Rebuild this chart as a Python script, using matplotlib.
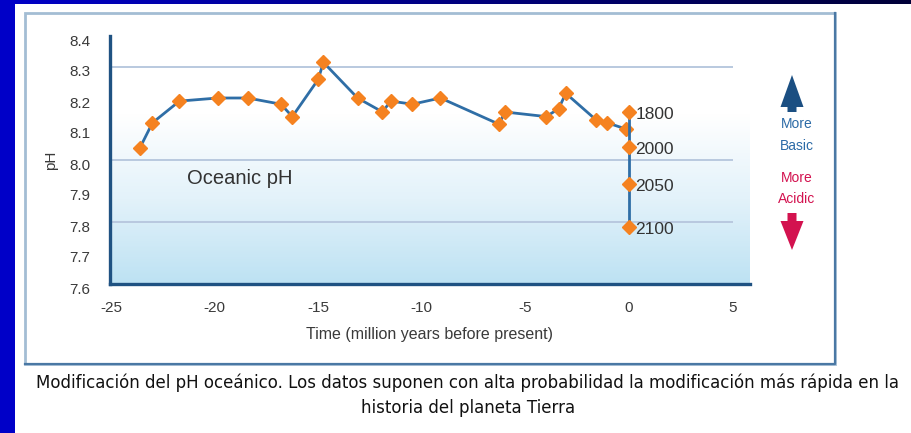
import matplotlib
matplotlib.use("Agg")
import matplotlib.pyplot as plt
import numpy as np
from matplotlib.colors import LinearSegmentedColormap
from matplotlib.patches import Rectangle, FancyArrow
from matplotlib.lines import Line2D
from matplotlib.transforms import ScaledTranslation

# ---- data ----
paleo_x = [-23.6, -23.0, -21.7, -19.85, -18.4, -16.8, -16.25, -15.0, -14.75, -13.1,
           -11.9, -11.5, -10.45, -9.1, -6.26, -6.0, -4.0, -3.4, -3.05, -1.6, -1.05, -0.15]
paleo_ph = [8.04, 8.12, 8.19, 8.20, 8.20, 8.18, 8.14, 8.26, 8.315, 8.20,
            8.155, 8.19, 8.18, 8.20, 8.115, 8.155, 8.14, 8.165, 8.215, 8.13, 8.12, 8.10]
future_years = ["1800", "2000", "2050", "2100"]
future_x = [0.0, 0.0, 0.0, 0.0]
future_ph = [8.156, 8.043, 7.923, 7.783]
grid_ph = [8.3, 8.0, 7.8]
xticks = [-25, -20, -15, -10, -5, 0, 5]
yticks = [7.6, 7.7, 7.8, 7.9, 8.0, 8.1, 8.2, 8.3, 8.4]

LINE, ORANGE, SPINE = "#2f6ea6", "#f58220", "#1f5282"
GRID, TXT = "#b9c9df", "#3a3a3a"
NARROW = ["Liberation Sans Narrow", "Liberation Sans", "DejaVu Sans"]
W, H = 912, 433


def fx(x):
    return x / W


def fy(y):
    return 1 - y / H


fig = plt.figure(figsize=(W / 100, H / 100), dpi=100)
fig.patch.set_facecolor("white")

# slide decoration: blue bars and frame
top = np.linspace(0, 1, 256).reshape(1, -1)
bar_cmap = LinearSegmentedColormap.from_list("bar", ["#0000c8", "#000038"])
bax = fig.add_axes([0, fy(4.5), 1, 4.5 / H])
bax.imshow(top, cmap=bar_cmap, aspect="auto")
bax.axis("off")
fig.add_artist(Rectangle((0, 0), fx(15), 1, transform=fig.transFigure,
                         facecolor="#0000c8", edgecolor="none", zorder=5))
fig.add_artist(Rectangle((fx(25), fy(364)), fx(810), (364 - 13) / H, transform=fig.transFigure,
                         facecolor="none", edgecolor="#a3bdd4", lw=2, zorder=1))
fig.add_artist(Line2D([fx(835), fx(835), fx(25)], [fy(13), fy(364), fy(364)],
                      transform=fig.transFigure, color="#4a78a4", lw=1.6, zorder=2))

ax = fig.add_axes([fx(110), fy(284), fx(640), 248 / H])
x0, x1 = -25.05, 5.84
ax.set_xlim(x0, x1)
ax.set_ylim(7.6, 8.4)

# background gradient
t = np.linspace(8.4, 7.6, 300)
g = np.clip((8.15 - t) / (8.15 - 7.6), 0, 1).reshape(-1, 1)
bg_cmap = LinearSegmentedColormap.from_list("bg", ["#ffffff", "#e3f2fa", "#bde2f3"])
ax.imshow(g, cmap=bg_cmap, vmin=0, vmax=1, aspect="auto",
          extent=[x0, x1, 7.6, 8.4], zorder=0)

ax.hlines(grid_ph, -25, 5, color=GRID, lw=1.4, zorder=1)

ax.plot(paleo_x, paleo_ph, color=LINE, lw=2, marker="D", ms=7,
        mfc=ORANGE, mec=ORANGE, zorder=3)
ax.plot(future_x, future_ph, color=LINE, lw=2, marker="D", ms=7,
        mfc=ORANGE, mec=ORANGE, zorder=3)
for yr, xv, yv in zip(future_years, future_x, future_ph):
    ax.text(xv + 0.3, yv - 0.008, yr, fontsize=12.5, color="#333333",
            family="Liberation Sans", ha="left", va="center")

ax.text(-18.8, 7.94, "Oceanic pH", fontsize=14.5, color="#333333",
        family="Liberation Sans", ha="center", va="center")

for s in ["top", "right"]:
    ax.spines[s].set_visible(False)
for s in ["left", "bottom"]:
    ax.spines[s].set_color(SPINE)
    ax.spines[s].set_linewidth(2.4)
ax.set_xticks(xticks)
ax.set_yticks(yticks)
ax.set_xticklabels([str(v) for v in xticks])
ax.set_yticklabels([f"{v:.1f}" for v in yticks])
ax.tick_params(length=0, labelsize=11, labelcolor=TXT)
ax.tick_params(axis="x", pad=12)
ax.tick_params(axis="y", pad=14)
for lab in ax.get_xticklabels() + ax.get_yticklabels():
    lab.set_family(NARROW)
for lab in ax.get_yticklabels():
    lab.set_transform(lab.get_transform() + ScaledTranslation(0, -4 / 100, fig.dpi_scale_trans))

ax.set_xlabel("Time (million years before present)", fontsize=11.5, color=TXT,
              family=NARROW, labelpad=9)
ax.set_ylabel("pH", fontsize=11, color=TXT, family=NARROW, labelpad=8)

# More basic / more acidic indicator
fig.add_artist(FancyArrow(fx(792), fy(112), 0, (112 - 75) / H, width=fx(9), head_width=fx(23),
                          head_length=(112 - 75 - 5) / H, length_includes_head=True,
                          transform=fig.transFigure, color="#1b4f82", lw=0))
fig.add_artist(FancyArrow(fx(792), fy(213), 0, -(250 - 213) / H, width=fx(9), head_width=fx(23),
                          head_length=(250 - 213 - 8) / H, length_includes_head=True,
                          transform=fig.transFigure, color="#d3124f", lw=0))
fig.text(fx(797), fy(124), "More", fontsize=10, color="#2b6aa6", family=NARROW, ha="center", va="center")
fig.text(fx(797), fy(146), "Basic", fontsize=10, color="#2b6aa6", family=NARROW, ha="center", va="center")
fig.text(fx(797), fy(178), "More", fontsize=10, color="#d3124f", family=NARROW, ha="center", va="center")
fig.text(fx(797), fy(199), "Acidic", fontsize=10, color="#d3124f", family=NARROW, ha="center", va="center")

# caption
fig.text(fx(468), fy(383), "Modificación del pH oceánico. Los datos suponen con alta probabilidad "
         "la modificación más rápida en la", fontsize=12, color="#111111", ha="center", va="center")
fig.text(fx(468), fy(408), "historia del planeta Tierra", fontsize=12, color="#111111",
         ha="center", va="center")

fig.savefig("out.png", dpi=100)
